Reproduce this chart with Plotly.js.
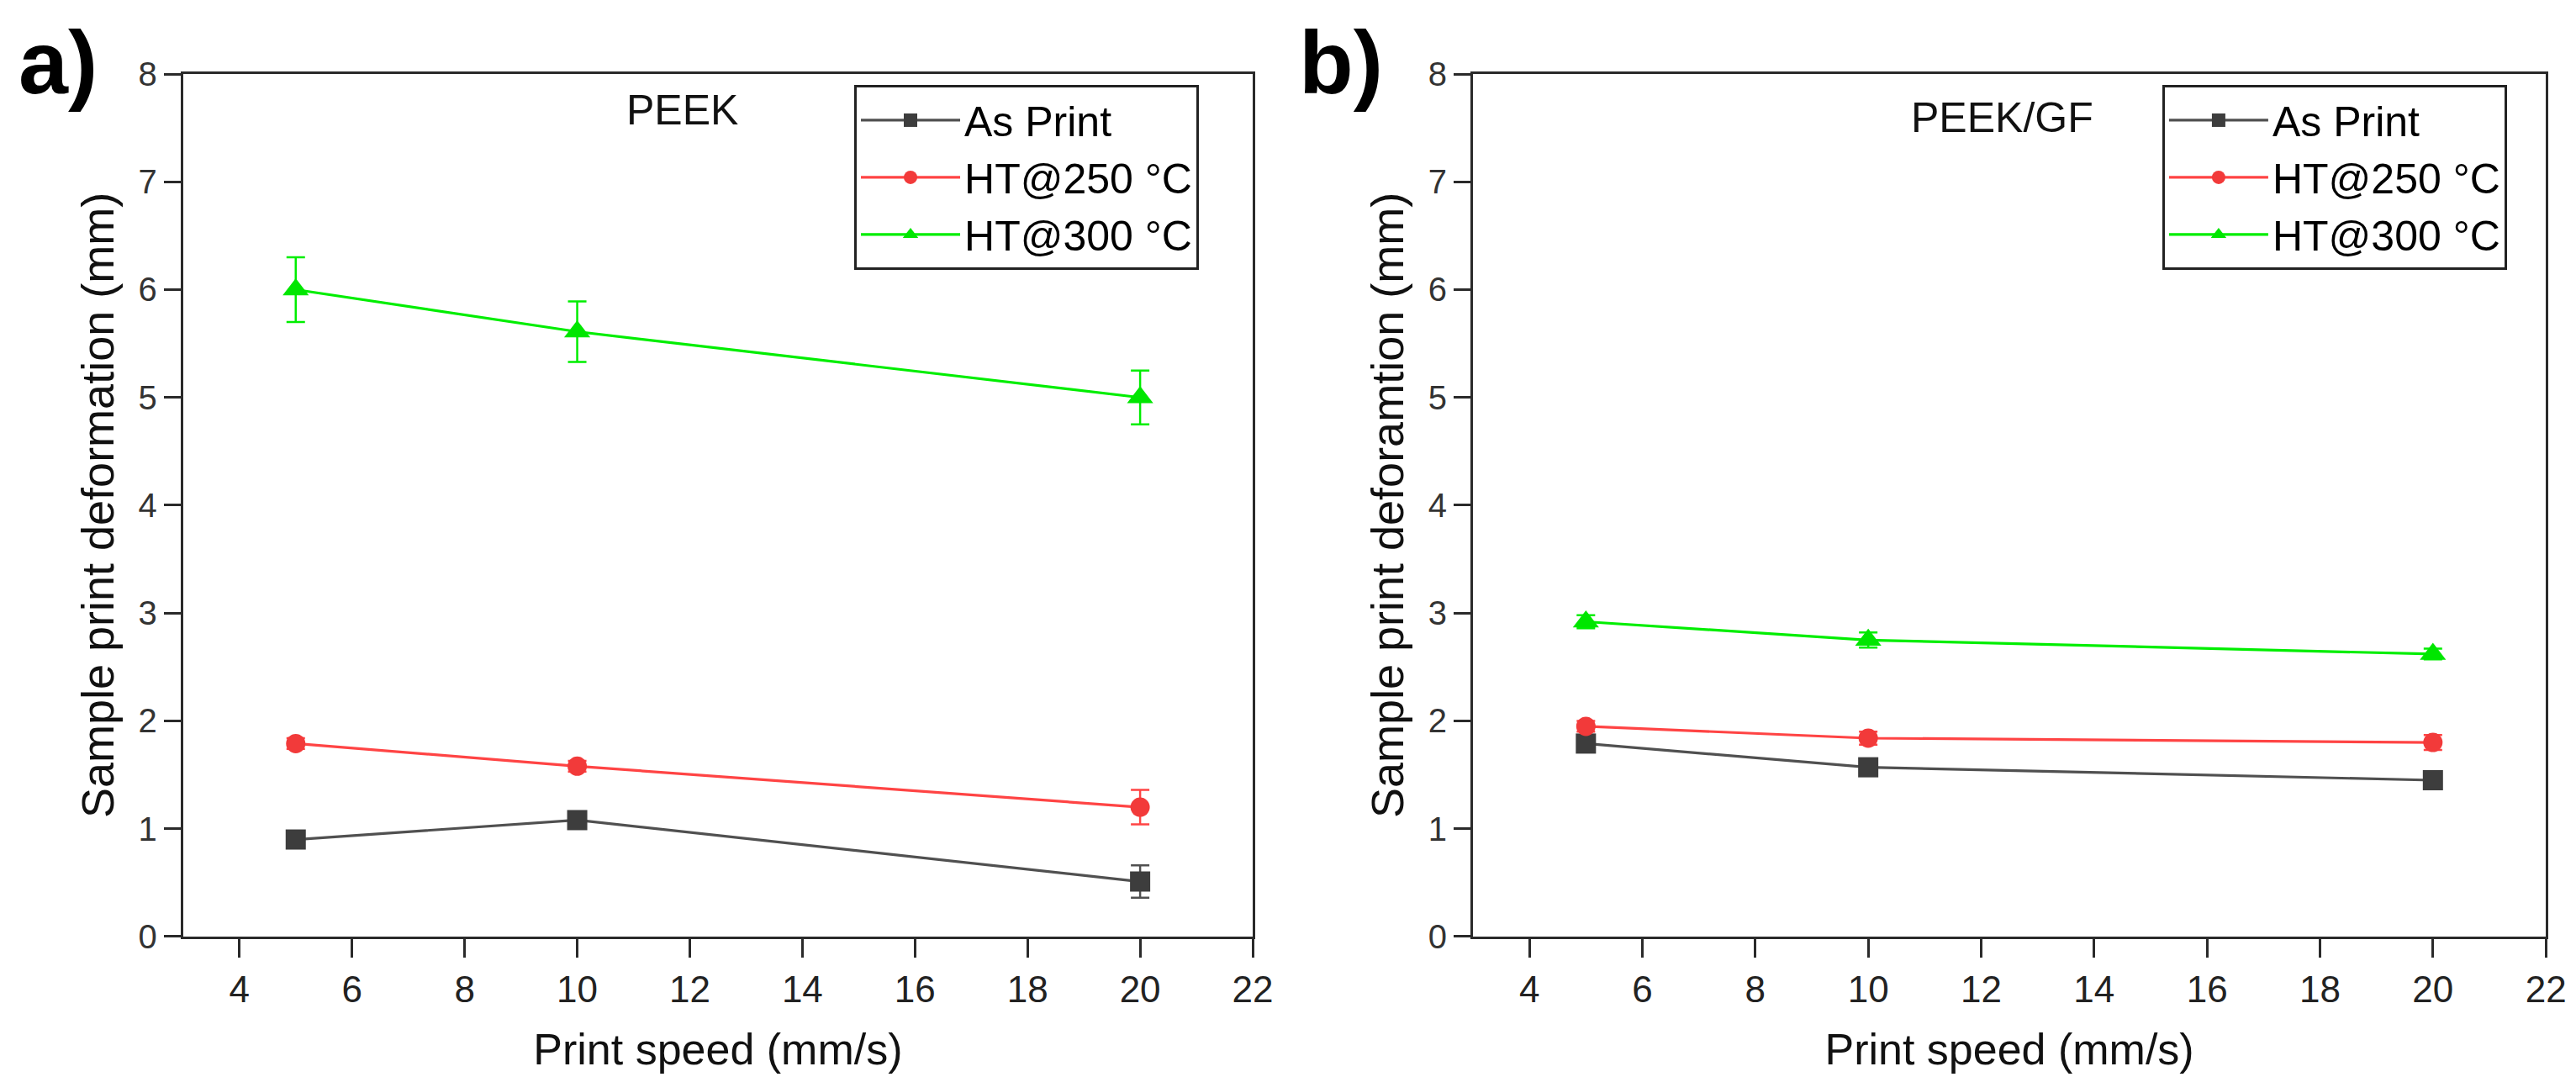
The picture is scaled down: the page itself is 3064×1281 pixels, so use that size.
<!DOCTYPE html>
<html>
<head>
<meta charset="utf-8">
<script src="https://cdn.plot.ly/plotly-3.0.1.min.js"></script>
<style>
  html, body { margin: 0; padding: 0; background: #ffffff; }
  #chart { width: 3064px; height: 1281px; }
</style>
</head>
<body>
<div id="chart"></div>
<script>
// print speeds (mm/s)
const speeds = [5, 10, 20];

// a) PEEK
const peekAsPrint = [0.90, 1.08, 0.51];
const peekAsPrintErr = [0.07, 0.05, 0.15];
const peekHT250 = [1.79, 1.58, 1.20];
const peekHT250Err = [0.05, 0.05, 0.16];
const peekHT300 = [6.00, 5.61, 5.00];
const peekHT300Err = [0.30, 0.28, 0.25];

// b) PEEK/GF
const gfAsPrint = [1.79, 1.57, 1.45];
const gfAsPrintErr = [0.06, 0.05, 0.05];
const gfHT250 = [1.95, 1.84, 1.80];
const gfHT250Err = [0.05, 0.06, 0.07];
const gfHT300 = [2.92, 2.75, 2.62];
const gfHT300Err = [0.06, 0.07, 0.05];

const seriesNames = ['As Print', 'HT@250 °C', 'HT@300 °C'];
const lineColors = ['#505050', '#ff4444', '#00ee00'];
const markerColors = ['#3d3d3d', '#f23a3a', '#00e600'];
const markerSymbols = ['square', 'circle', 'triangle-up'];
const markerSizes = [24, 23, 27];

const panelA = [[peekAsPrint, peekAsPrintErr], [peekHT250, peekHT250Err], [peekHT300, peekHT300Err]];
const panelB = [[gfAsPrint, gfAsPrintErr], [gfHT250, gfHT250Err], [gfHT300, gfHT300Err]];

const traces = [];

function addPanel(series, xaxis, yaxis, legendId) {
    // error bars first, so lines and markers sit on top
    series.forEach(function(s, i) {
        traces.push({
            x: speeds, y: s[0], xaxis: xaxis, yaxis: yaxis,
            type: 'scatter', mode: 'markers', showlegend: false, hoverinfo: 'skip',
            marker: { size: 2, opacity: 0 },
            error_y: { type: 'data', array: s[1], visible: true, color: lineColors[i], thickness: 2.5, width: 11 }
        });
    });
    series.forEach(function(s, i) {
        traces.push({
            x: speeds, y: s[0], xaxis: xaxis, yaxis: yaxis,
            type: 'scatter', mode: 'lines+markers', name: seriesNames[i], legend: legendId,
            line: { color: lineColors[i], width: 3.2 },
            marker: { symbol: markerSymbols[i], size: markerSizes[i], color: markerColors[i] }
        });
    });
}

addPanel(panelA, 'x', 'y', 'legend');
addPanel(panelB, 'x2', 'y2', 'legend2');

const axisLine = '#2a2a2a';
const tickFontY = { family: 'Liberation Sans, Arial, sans-serif', size: 40, color: '#333333' };
const tickFontX = { family: 'Liberation Sans, Arial, sans-serif', size: 44, color: '#222222' };
const titleFont = { family: 'Liberation Sans, Arial, sans-serif', size: 54, color: '#111111' };

function xAxis(domain, anchor) {
    return {
        domain: domain, anchor: anchor, range: [3, 22], tick0: 0, dtick: 2,
        showline: true, linecolor: axisLine, linewidth: 3, mirror: true,
        ticks: 'outside', ticklen: 22, tickwidth: 3, tickcolor: axisLine,
        showgrid: false, zeroline: false, tickfont: tickFontX,
        title: { text: 'Print speed (mm/s)', font: { family: 'Liberation Sans, Arial, sans-serif', size: 52, color: '#111111' }, standoff: 30 }
    };
}

function yAxis(domain, anchor, label) {
    return {
        domain: domain, anchor: anchor, range: [0, 8], dtick: 1,
        showline: true, linecolor: axisLine, linewidth: 3, mirror: true,
        ticks: 'outside', ticklen: 20, tickwidth: 3, tickcolor: axisLine,
        showgrid: false, zeroline: false, tickfont: tickFontY,
        title: { text: label, font: titleFont, standoff: 12 }
    };
}

const legendFont = { family: 'Liberation Sans, Arial, sans-serif', size: 50, color: '#000000' };

const layout = {
    width: 3064, height: 1281,
    margin: { l: 0, r: 0, t: 0, b: 0 },
    paper_bgcolor: '#ffffff', plot_bgcolor: '#ffffff',
    xaxis: xAxis([0.0711, 0.4863], 'y'),
    yaxis: yAxis([0.1304, 0.9313], 'x', 'Sample print deformation (mm)'),
    xaxis2: xAxis([0.5718, 0.9883], 'y2'),
    yaxis2: yAxis([0.1304, 0.9313], 'x2', 'Sample print deforamtion (mm)'),
    legend: {
        x: 0.3316, y: 0.9212, xanchor: 'left', yanchor: 'top',
        bordercolor: '#222222', borderwidth: 3, bgcolor: '#ffffff',
        font: legendFont, itemwidth: 118, tracegroupgap: 0
    },
    legend2: {
        x: 0.8394, y: 0.9212, xanchor: 'left', yanchor: 'top',
        bordercolor: '#222222', borderwidth: 3, bgcolor: '#ffffff',
        font: legendFont, itemwidth: 118, tracegroupgap: 0
    },
    annotations: [
        { text: '<b>a)</b>', xref: 'paper', yref: 'paper', x: 0.0065, y: 0.9420, xanchor: 'left', yanchor: 'middle',
          showarrow: false, font: { family: 'Liberation Sans, Arial, sans-serif', size: 106, color: '#000000' } },
        { text: '<b>b)</b>', xref: 'paper', yref: 'paper', x: 0.5035, y: 0.9420, xanchor: 'left', yanchor: 'middle',
          showarrow: false, font: { family: 'Liberation Sans, Arial, sans-serif', size: 106, color: '#000000' } },
        { text: 'PEEK', xref: 'paper', yref: 'paper', x: 0.2650, y: 0.8977, xanchor: 'center', yanchor: 'middle',
          showarrow: false, font: { family: 'Liberation Sans, Arial, sans-serif', size: 50, color: '#111111' } },
        { text: 'PEEK/GF', xref: 'paper', yref: 'paper', x: 0.7771, y: 0.8907, xanchor: 'center', yanchor: 'middle',
          showarrow: false, font: { family: 'Liberation Sans, Arial, sans-serif', size: 50, color: '#111111' } }
    ]
};

Plotly.newPlot('chart', traces, layout, { displayModeBar: false, staticPlot: true });
</script>
</body>
</html>
